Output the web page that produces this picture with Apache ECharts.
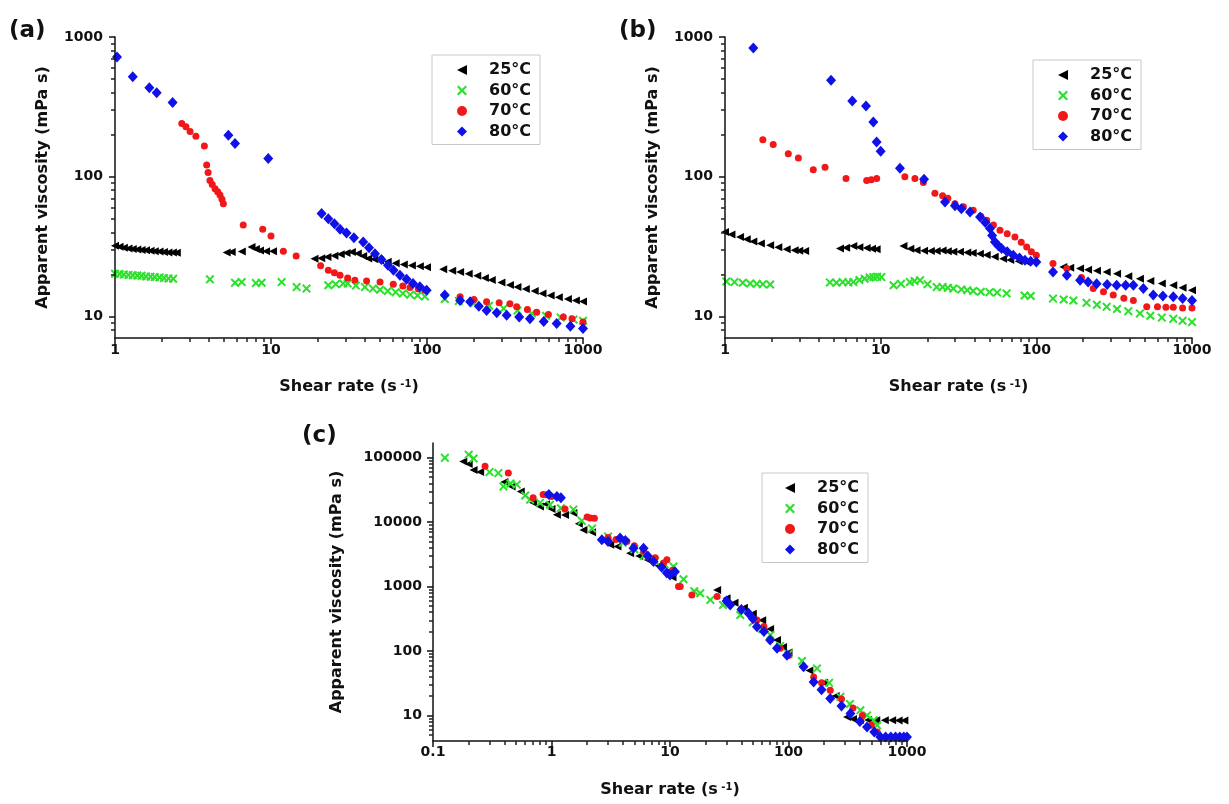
<!DOCTYPE html>
<html>
<head>
<meta charset="utf-8">
<script src="https://cdn.jsdelivr.net/npm/echarts@6/dist/echarts.min.js"></script>
<style>
html,body{margin:0;padding:0;background:#fff;}
#chart{width:1229px;height:804px;}
</style>
</head>
<body>
<div id="chart"></div>
<script>
// ---------- data (shear rate [s^-1], apparent viscosity [mPa s]) ----------
const seriesNames = ['25°C', '60°C', '70°C', '80°C'];

// panel (a)
const a25 = [[1.0,32],[1.07,31.5],[1.14,31],[1.22,30.6],[1.3,30.3],[1.39,30.1],[1.48,29.9],[1.58,29.7],[1.69,29.5],[1.8,29.3],[1.93,29.1],[2.06,28.9],[2.2,28.7],[2.35,28.6],[2.49,28.5],
  [5.2,28.7],[5.6,28.9],[6.5,29.1],[7.5,31.4],[8.0,30.4],[8.5,29.6],[9.3,29.3],[10.3,29.2],
  [19,25.8],[21,26.1],[23,26.6],[25.5,27.2],[28,27.8],[30.5,28.4],[33,28.9],[36,28.2],[39,27],[42,26],[46,25.6],[50,25.2],[56,24.6],[63,24],[71,23.5],[80,23.1],[90,22.8],[100,22.5],
  [127,21.7],[145,21.2],[163,20.8],[185,20.2],[210,19.5],[235,18.8],[260,18.2],[300,17.5],[340,16.8],[380,16.2],[430,15.7],[490,15.2],[550,14.6],[620,14.1],[700,13.7],[800,13.3],[900,13.0],[1000,12.8]];
const a60 = [[1.0,20.2],[1.07,20.1],[1.14,19.9],[1.22,19.8],[1.3,19.7],[1.39,19.6],[1.48,19.5],[1.58,19.3],[1.69,19.2],[1.8,19.1],[1.93,19.0],[2.06,18.8],[2.2,18.7],[2.36,18.6],
  [4.06,18.4],[5.88,17.4],[6.49,17.6],[8.0,17.3],[8.71,17.4],[11.7,17.6],[14.6,16.2],[16.9,15.8],[23.3,16.7],[26,17.0],[29,17.2],
  [31,17.2],[35,16.6],[40,16.2],[45,15.8],[50,15.5],[56,15.2],[63,14.9],[70,14.6],[78,14.3],[87,14.1],[97,13.9],
  [130,13.3],[160,12.9],[200,12.4],[250,11.9],[310,11.4],[380,11.0],[470,10.5],[580,10.1],[720,9.8],[870,9.5],[1000,9.3]];
const a70 = [[2.68,240],[2.85,228],[3.03,211],[3.3,195],[3.74,166],[3.87,121],[3.95,107],[4.06,94],[4.2,88],[4.38,82],[4.55,78],[4.71,74],[4.85,69],[4.95,64],
  [6.64,45],[8.85,42],[10,37.6],[12,29.2],[14.5,27.1],[20.8,23],[23.3,21.4],[25.5,20.5],[27.7,19.7],[31,18.8],[34.5,18.1],[41,17.9],[50,17.6],[60.8,17],[70,16.5],[77.8,16.1],[88,15.7],[97,15.4],
  [163,13.8],[200,13.2],[241,12.7],[290,12.5],[340,12.3],[376,11.7],[440,11.2],[505,10.7],[600,10.3],[748,9.9],[850,9.6],[1000,9.1]];
const a80 = [[1.03,720],[1.3,519],[1.66,433],[1.85,399],[2.34,340],[5.33,198],[5.88,173],[9.6,135],
  [21.1,54.5],[23.3,50],[25.5,46],[27.7,42],[30.5,39.5],[34,36.5],[39,34.1],[42.5,31],[46.4,28.1],[51,25.5],[56.2,23.2],[61,21.4],[67.1,19.7],[74,18.4],[81.3,17.2],[90,16.3],[99.5,15.4],
  [130,14.2],[163,13.0],[189,12.7],[215,11.8],[241,11.0],[280,10.6],[324,10.2],[390,9.9],[457,9.6],[560,9.2],[678,8.9],[830,8.5],[1000,8.2]];

// panel (b)
const b25 = [[1.0,40.2],[1.1,38.5],[1.25,37],[1.38,35.6],[1.52,34.4],[1.7,33.2],[1.95,32.3],[2.2,31.2],[2.49,30.2],[2.8,29.7],[3.0,29.5],[3.27,29.4],
  [5.48,30.6],[6.0,31],[6.67,31.9],[7.3,31.2],[8.13,30.9],[8.8,30.5],[9.42,30.2],
  [14,31.9],[15.5,30.5],[17,29.7],[19,29.5],[21,29.4],[22.9,29.4],[25,29.6],[27,29.3],[29.3,29],[32.3,29],[36,28.7],[39,28.4],[43.4,28.1],[48,27.5],[54,26.7],[61.2,25.9],[68,25.3],[77,24.8],[86.7,24.5],
  [149,22.6],[165,22.3],[191,22],[215,21.6],[245,21.2],[283,20.8],[330,20.2],[390,19.4],[463,18.6],[540,17.9],[640,17.2],[758,16.7],[870,16],[1000,15.4]];
const b60 = [[1.02,17.8],[1.15,17.6],[1.3,17.4],[1.45,17.2],[1.6,17.1],[1.75,17],[1.95,16.9],
  [4.72,17.5],[5.2,17.4],[5.7,17.6],[6.2,17.5],[6.67,17.6],[7.3,18.2],[7.9,18.6],[8.5,19],[8.97,19.1],[9.5,19.2],[10.1,19.1],
  [12.1,16.7],[13.5,17.1],[15.4,17.6],[16.5,17.9],[17.9,18.1],[20,17],[22.9,16.2],[25,16.2],[27,16],[29.3,15.8],[33,15.6],[36,15.4],[39.3,15.2],[44,15],[50,14.9],[56,14.8],[64.4,14.6],
  [84,14.1],[92,14.0],[128,13.4],[150,13.2],[173,13.0],[210,12.5],[245,12.1],[283,11.7],[330,11.3],[390,10.9],[463,10.5],[540,10.1],[640,9.8],[758,9.6],[870,9.3],[1000,9.1]];
const b70 = [[1.75,184],[2.04,170],[2.55,146],[2.96,136],[3.69,112],[4.39,117],[5.99,97],[8.13,94],[8.7,95],[9.43,97],
  [14.3,100],[16.6,97],[18.8,91],[22.3,76],[25,73],[27,70],[30,64],[34,61],[39.3,57.4],[44,52],[48,48.7],[53,45],[58.4,41.3],[65,39],[72.9,37],[80,34],[86.7,31.4],[93,29],[100,27.4],
  [128,23.9],[157,22],[195,19],[232,15.8],[270,15],[312,14.2],[365,13.5],[420,13.0],[512,11.7],[600,11.7],[680,11.6],[758,11.6],[870,11.5],[1000,11.5]];
const b80 = [[1.52,834],[4.8,490],[6.57,348],[8.05,321],[8.97,246],[9.42,177],[10,152],[13.3,115],[19,96],
  [25.9,66],[30,62],[33,59],[37.5,55.8],[43.5,51.4],[47,47],[50.4,42.5],[52,38],[54.2,34.1],[57,32],[59.8,30.6],[65,29],[71.1,27.4],[78,26.2],[84.5,25.2],[92,24.8],[100,24.5],
  [128,20.8],[157,19.7],[191,18.1],[215,17.6],[244,17.1],[285,16.9],[328,16.7],[375,16.7],[420,16.7],[487,15.8],[564,14.2],[650,14],[758,13.8],[870,13.4],[1000,13.0]];

// panel (c)
const c25 = [[0.18,88000],[0.2,80000],[0.22,65000],[0.25,60000],[0.4,42000],[0.46,36000],[0.55,30000],[0.7,20000],[0.8,17600],[0.9,19000],[1.0,16000],[1.11,13100],[1.3,13000],[1.53,13900],[1.7,9500],[1.86,7600],[2.2,7000],
  [3.13,4470],[3.6,4200],[4.61,3310],[5.5,3000],[6.5,2600],[8,2100],[9.5,1700],[10.5,1400],
  [25,887],[30,659],[35,560],[42,470],[50,380],[60,300],[70,220],[80,148],[90,115],[100,95],[150,50],[200,32],[250,20],[312,9.4],[350,8.8],[400,8.5],[470,8.5],[550,8.4],[650,8.4],[750,8.4],[850,8.3],[950,8.3]];
const c60 = [[0.126,100000],[0.2,112000],[0.22,98000],[0.3,60000],[0.356,58000],[0.393,36000],[0.45,40000],[0.509,38400],[0.6,26000],[0.659,22400],[0.8,20000],[0.97,18700],[1.2,16500],[1.53,15700],[1.8,10500],[2.2,8000],
  [3,6000],[4,4800],[5,3800],[6,3000],[7.5,2500],[9,2200],[10.7,2050],[13,1300],[16,850],[18,789],[21.9,621],[28,520],[39.2,362],[50,280],[60,220],[70.3,177],[85,120],[100,90],
  [130,70],[174,53.6],[220,32],[274,19.4],[330,15],[404,12],[460,10],[523,8.4],[560,7]];
const c70 = [[0.275,74000],[0.432,58000],[0.7,24000],[0.85,27000],[0.912,26800],[1.0,25000],[1.3,16000],[2.0,12000],[2.12,11600],[2.3,11500],
  [3,5800],[3.5,5400],[4.32,5020],[5,4300],[6,3500],[7.5,2800],[8.82,2320],[9.42,2610],[10.5,1800],[11.8,1000],[12.2,1000],[15.3,741],
  [25,700],[32,540],[40,450],[54.2,303],[62,240],[70.3,148],[85,110],[100,85],[163,39.6],[190,32],[225,24.5],[280,18],[350,13],[420,10],[500,7],[560,5.5]];
const c80 = [[0.95,27000],[1.11,25200],[1.2,24000],[2.66,5330],[3.0,5000],[3.79,5670],[4.2,5200],[4.92,3960],[5.98,3960],[6.5,3000],[7.26,2450],[8.5,2000],[9.4,1620],[10,1510],[11,1700],
  [30,600],[32.2,519],[40,440],[46,385],[50,320],[54.2,238],[62,200],[70,148],[80,110],[97,86],[134,56.8],[163,33],[190,25],[225,18.3],[280,14],[333,10.7],[400,8],[460,6.6],[530,5.5],
  [596,4.6],[660,4.6],[730,4.6],[800,4.6],[870,4.6],[940,4.6],[1000,4.6]];

// tick labels
const abXTicks = [1, 10, 100, 1000];
const abYTicks = [10, 100, 1000];
const cXTicks = [0.1, 1, 10, 100, 1000];
const cYTicks = [10, 100, 1000, 10000, 100000];

// ---------- styling ----------
const FONT = 'DejaVu Sans';
const colors = ['#000000', '#2ee02e', '#f01818', '#1010e8'];
const symbols = ['path://M0,5L10,0L10,10Z',
  'path://M1.6,0L5,3.4L8.4,0L10,1.6L6.6,5L10,8.4L8.4,10L5,6.6L1.6,10L0,8.4L3.4,5L0,1.6Z',
  'circle', 'diamond'];
const sizes = [[8, 8], 9, 7, [10, 11]];

function minorTicks(lo, hi) {
  const out = [];
  for (let e = -2; e <= 6; e++) {
    for (let m = 2; m <= 9; m++) {
      const v = +(m * Math.pow(10, e)).toPrecision(3);
      if (v > lo && v < hi) out.push(v);
    }
  }
  return out;
}
const fmt = v => String(+(+v).toPrecision(6));
const tickLabelStyle = {fontFamily: FONT, fontWeight: 'bold', fontSize: 14, color: '#111'};
const nameStyle = {fontFamily: FONT, fontWeight: 'bold', fontSize: 16, color: '#111',
  rich: {sup: {fontFamily: FONT, fontWeight: 'bold', fontSize: 10, color: '#111', verticalAlign: 'top', lineHeight: 16}}};
const axisLine = {show: true, lineStyle: {color: '#111', width: 1.5}};
const hiddenLine = {show: true, lineStyle: {color: 'rgba(0,0,0,0)', width: 1}};

const grids = [
  {left: 115, top: 37, width: 468, height: 301},
  {left: 725, top: 37, width: 467, height: 301},
  {left: 433, top: 443, width: 474, height: 298}
];
const ranges = [
  {x: [1, 1000], y: [7, 1000], xt: abXTicks, yt: abYTicks, yGap: 64, xLabelMargin: 5, yLabelMargin: 12},
  {x: [1, 1000], y: [7, 1000], xt: abXTicks, yt: abYTicks, yGap: 64, xLabelMargin: 5, yLabelMargin: 12},
  {x: [0.1, 1000], y: [4, 170000], xt: cXTicks, yt: cYTicks, yGap: 88, xLabelMargin: 4, yLabelMargin: 11}
];

const xAxis = [], yAxis = [];
ranges.forEach((r, g) => {
  const xMinor = minorTicks(r.x[0], r.x[1]);
  const yMinor = minorTicks(r.y[0], r.y[1]);
  xAxis.push({type: 'log', logBase: 10, gridIndex: g, position: 'bottom', min: r.x[0], max: r.x[1],
    axisLine: axisLine, splitLine: {show: false},
    axisTick: {show: true, customValues: r.xt, length: 6, lineStyle: {color: '#111', width: 1.5}},
    axisLabel: {customValues: r.xt, formatter: fmt, margin: r.xLabelMargin, ...tickLabelStyle},
    name: 'Shear rate (s{sup| -1})', nameLocation: 'middle', nameGap: 41, nameTextStyle: nameStyle, z: 3});
  xAxis.push({type: 'log', logBase: 10, gridIndex: g, position: 'bottom', min: r.x[0], max: r.x[1],
    axisLine: hiddenLine, splitLine: {show: false},
    axisTick: {show: true, customValues: xMinor, length: 4, lineStyle: {color: '#222', width: 1.5}},
    axisLabel: {show: true, customValues: xMinor, formatter: () => '', color: 'rgba(0,0,0,0)'}, z: 4});
  yAxis.push({type: 'log', logBase: 10, gridIndex: g, position: 'left', min: r.y[0], max: r.y[1],
    axisLine: axisLine, splitLine: {show: false},
    axisTick: {show: true, customValues: r.yt, length: 6, lineStyle: {color: '#111', width: 1.5}},
    axisLabel: {customValues: r.yt, formatter: fmt, margin: r.yLabelMargin, ...tickLabelStyle},
    name: 'Apparent viscosity (mPa s)', nameLocation: 'middle', nameGap: r.yGap, nameRotate: 90, nameTextStyle: nameStyle, z: 3});
  yAxis.push({type: 'log', logBase: 10, gridIndex: g, position: 'left', min: r.y[0], max: r.y[1],
    axisLine: hiddenLine, splitLine: {show: false},
    axisTick: {show: true, customValues: yMinor, length: 4, lineStyle: {color: '#222', width: 1.5}},
    axisLabel: {show: true, customValues: yMinor, formatter: () => '', color: 'rgba(0,0,0,0)'}, z: 4});
});

const panelData = [[a25, a60, a70, a80], [b25, b60, b70, b80], [c25, c60, c70, c80]];
const series = [];
panelData.forEach((sets, g) => {
  sets.forEach((d, i) => {
    series.push({type: 'scatter', name: seriesNames[i], xAxisIndex: g * 2, yAxisIndex: g * 2,
      data: d, symbol: symbols[i], symbolSize: sizes[i], itemStyle: {color: colors[i], opacity: 1},
      emphasis: {disabled: true}, silent: true, animation: false});
  });
});

function legendAt(left, top, padLeft) {
  return {data: seriesNames, orient: 'vertical', left: left, top: top, selectedMode: false,
    itemWidth: 10, itemHeight: 10, itemGap: 4.5,
    padding: [7, 9, 5, padLeft], borderColor: '#c8c8c8', borderWidth: 1, backgroundColor: '#fff',
    textStyle: {fontFamily: FONT, fontWeight: 'bold', fontSize: 16, color: '#111', lineHeight: 16, padding: [0, 0, 0, 17]}};
}

const panelLabel = (txt, x, y) => ({type: 'text', left: x, top: y,
  style: {text: txt, fontFamily: FONT, fontWeight: 'bold', fontSize: 23, fill: '#111'}});

const chart = echarts.init(document.getElementById('chart'), null, {renderer: 'canvas'});
chart.setOption({
  backgroundColor: '#ffffff',
  animation: false,
  grid: grids.map(g => ({...g, containLabel: false, outerBoundsMode: 'none'})),
  xAxis: xAxis,
  yAxis: yAxis,
  legend: [legendAt(432, 55, 25), legendAt(1033, 60, 25), legendAt(762, 473, 23)],
  graphic: [panelLabel('(a)', 9, 20), panelLabel('(b)', 619, 20), panelLabel('(c)', 302, 425)],
  series: series
});
</script>
</body>
</html>
